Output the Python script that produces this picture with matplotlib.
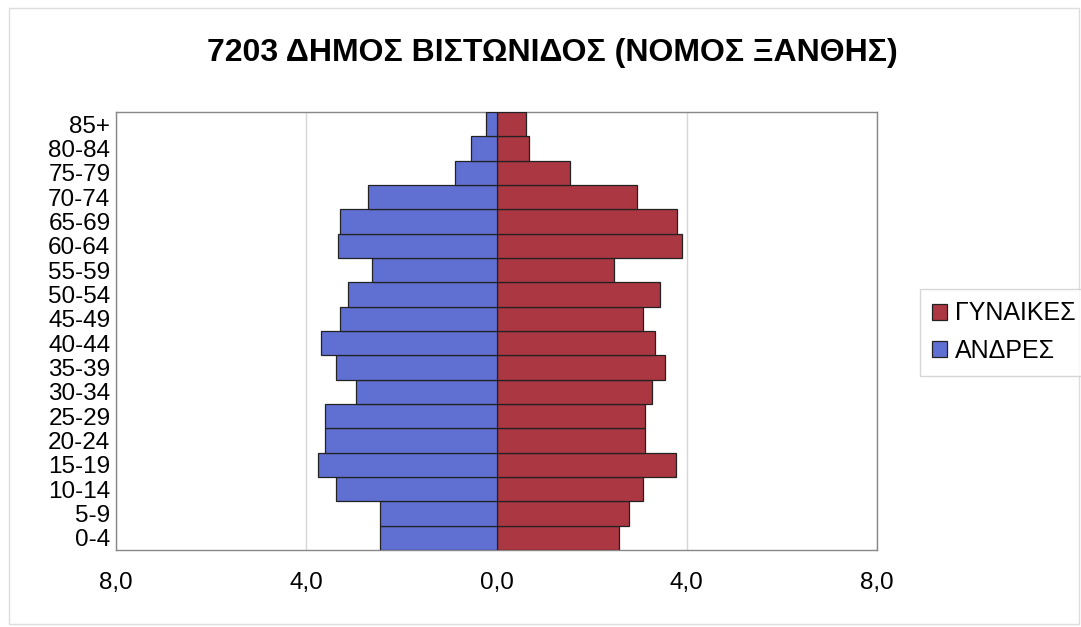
import numpy as np
import matplotlib
matplotlib.use("Agg")
import matplotlib.pyplot as plt
from matplotlib.patches import Rectangle

# =============================================================================
# Data (percent of population by age group)
# =============================================================================
age_groups = ['0-4', '5-9', '10-14', '15-19', '20-24', '25-29', '30-34', '35-39',
              '40-44', '45-49', '50-54', '55-59', '60-64', '65-69', '70-74',
              '75-79', '80-84', '85+']
men = [2.44, 2.44, 3.38, 3.76, 3.60, 3.61, 2.95, 3.38,
       3.68, 3.30, 3.12, 2.62, 3.34, 3.28, 2.70, 0.88, 0.53, 0.23]
women = [2.58, 2.79, 3.09, 3.77, 3.12, 3.12, 3.26, 3.54,
         3.33, 3.09, 3.43, 2.46, 3.89, 3.80, 2.96, 1.54, 0.68, 0.61]
x_ticks = [-8, -4, 0, 4, 8]
x_tick_labels = ['8,0', '4,0', '0,0', '4,0', '8,0']

title = '7203 ΔΗΜΟΣ ΒΙΣΤΩΝΙΔΟΣ (ΝΟΜΟΣ ΞΑΝΘΗΣ)'
label_women = 'ΓΥΝΑΙΚΕΣ'
label_men = 'ΑΝΔΡΕΣ'

# =============================================================================
# Plot
# =============================================================================
plt.rcParams['font.family'] = ['Liberation Sans', 'DejaVu Sans']
blue = '#5f70d2'
red = '#ab3742'

fig = plt.figure(figsize=(10.81, 6.27), dpi=100)
fig.patches.append(Rectangle((0.008, 0.005), 0.99, 0.982, transform=fig.transFigure,
                             fill=False, edgecolor='#dddddd', linewidth=1))
ax = fig.add_axes([0.1073, 0.1228, 0.704, 0.6986])

y = np.arange(len(age_groups))
ax.barh(y, women, height=1.0, color=red, edgecolor='#222222', linewidth=0.9, label=label_women, zorder=3)
ax.barh(y, -np.array(men), height=1.0, color=blue, edgecolor='#222222', linewidth=0.9, label=label_men, zorder=3)

ax.set_xlim(-8, 8)
ax.set_ylim(-0.5, len(age_groups) - 0.5)
ax.set_xticks(x_ticks)
ax.set_xticklabels(x_tick_labels, fontsize=17.5)
ax.set_yticks(y)
ax.set_yticklabels(age_groups, fontsize=17.5)
ax.tick_params(length=0, pad=4)
ax.tick_params(axis='x', pad=16)
ax.xaxis.grid(True, color='#d6d6d6', linewidth=1, zorder=0)
ax.yaxis.grid(False)
for s in ax.spines.values():
    s.set_color('#888888')
    s.set_linewidth(1)

fig.text(0.511, 0.915, title, ha='center', va='center', fontsize=23, fontweight='bold')

leg = fig.legend(loc='center left', bbox_to_anchor=(0.851, 0.47), fontsize=18,
                 frameon=True, fancybox=False, edgecolor='#cccccc',
                 handlelength=0.6, handleheight=0.6, handletextpad=0.3,
                 borderpad=0.5, labelspacing=0.55, borderaxespad=0)
leg.get_frame().set_linewidth(1)

fig.savefig('out.png', dpi=100)
